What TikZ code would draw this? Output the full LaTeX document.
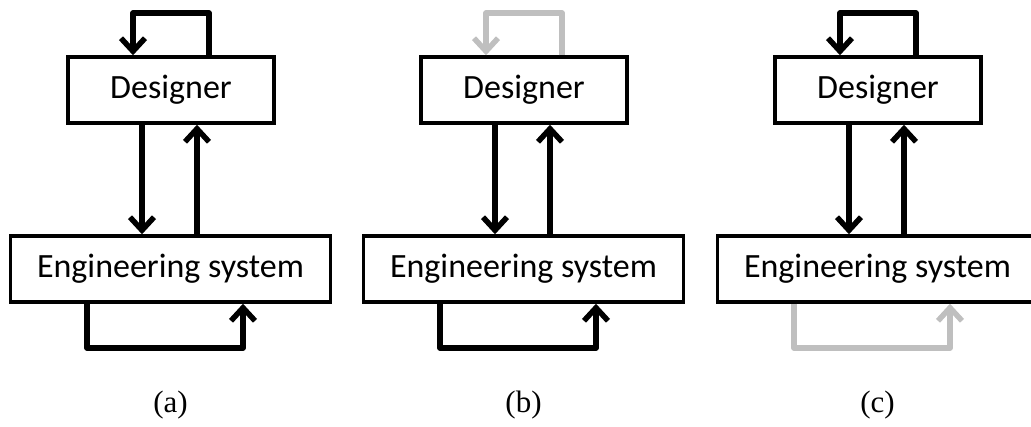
\documentclass[tikz,border=0pt]{standalone}
\usepackage{fontspec}
\setmainfont{Carlito}
\newfontfamily\capfont{Liberation Serif}
\usetikzlibrary{arrows.meta}
\definecolor{lightg}{RGB}{191,191,191}
\tikzset{
  box/.style={draw, line width=3.5pt, minimum height=66pt, inner sep=0pt, font=\fontsize{34}{40}\selectfont},
  arr/.style={line width=5.5pt, line join=round, -{Straight Barb[length=13pt,width=24pt,line width=5.5pt]}},
  faded/.style={draw=lightg},
  panellabel/.style={font=\capfont\fontsize{31}{36}\selectfont}
}
\newcommand{\panel}[4]{%
  \begin{scope}[xshift=#1]
    \node[box, minimum width=206pt] (D#2) at (171,90) {Designer};
    \node[box, minimum width=320pt] (E#2) at (170.5,269) {Engineering system};
    \coordinate (T#2) at (171,13);
    \coordinate (B#2) at (170.5,348);
    \draw[arr,#3] ([xshift=38pt]D#2.north) |- ([xshift=-38pt]T#2) -- ([xshift=-38pt]D#2.north);
    \draw[arr] ([xshift=-29pt]D#2.south) -- ([xshift=-28.5pt]E#2.north);
    \draw[arr] ([xshift=26.5pt]E#2.north) -- ([xshift=26pt]D#2.south);
    \draw[arr,#4] ([xshift=-83.5pt]E#2.south) |- ([xshift=72.5pt]B#2) -- ([xshift=72.5pt]E#2.south);
    \node[panellabel] (L#2) at (170.5,405) {(#2)};
  \end{scope}}
\begin{document}
\begin{tikzpicture}[x=1pt,y=-1pt]
  \useasboundingbox (0,0) rectangle (1031,426);
  \panel{0pt}{a}{}{}
  \panel{353pt}{b}{faded}{}
  \panel{707pt}{c}{}{faded}
\end{tikzpicture}
\end{document}
